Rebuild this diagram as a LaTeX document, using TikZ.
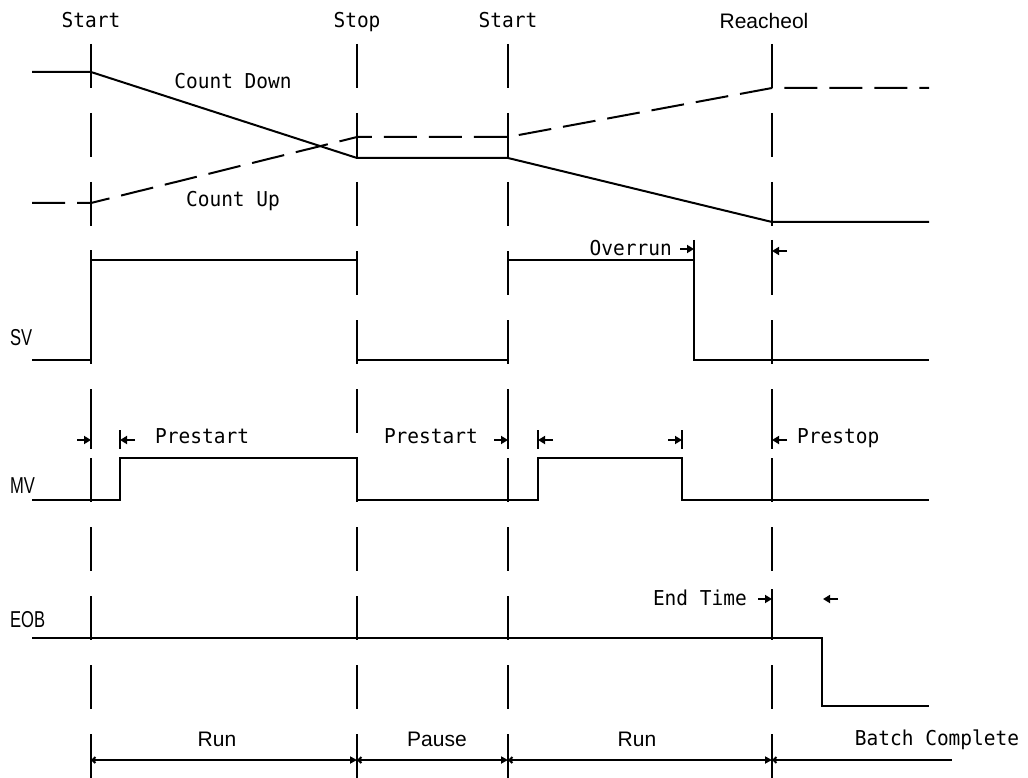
\documentclass[tikz,border=0pt]{standalone}
\usepackage{fontspec}
\usetikzlibrary{arrows.meta}
\newfontfamily\monolbl[FakeStretch=0.95]{DejaVu Sans Mono}
\newfontfamily\proplbl{Liberation Sans}
\newfontfamily\sidelbl[FakeStretch=0.72]{Liberation Sans}
\begin{document}
\begin{tikzpicture}[x=1pt,y=-1pt]
\tikzset{
  sig/.style={line width=2pt},
  guide/.style={line width=2pt, dash pattern=on 44pt off 25pt},
  cnt/.style={line width=2pt, dash pattern=on 33pt off 12pt},
  mono/.style={font=\monolbl\fontsize{20.5}{24}\selectfont, inner sep=0pt, anchor=base},
  prop/.style={font=\proplbl\fontsize{21}{24}\selectfont, inner sep=0pt, anchor=base},
  side/.style={font=\sidelbl\fontsize{23}{26}\selectfont, inner sep=0pt, anchor=base west},
  pin/.style={line width=1.7pt, -{Triangle[length=7pt,width=8pt]}},
  tick/.style={line width=2pt},
  dim/.style={line width=2pt, {Straight Barb[length=3pt,width=6pt]}-{Triangle[length=7pt,width=7pt]}},
  dimopen/.style={line width=2pt, {Straight Barb[length=3pt,width=6pt]}-},
}
\useasboundingbox (0,0) rectangle (1028,778);

% event guides: Start, Stop, Start, Reacheol
\foreach \gx in {91,357,508,772}
  \draw[guide] (\gx,44) -- (\gx,778);

% event labels
\node[mono] (evstart) at (91,28) {Start};
\node[mono] (evstop) at (357,28) {Stop};
\node[mono] (evrestart) at (508,28) {Start};
\node[prop] (evreach) at (764,29) {Reacheol};

% counters
\draw[sig] (32,72) -- (91,72) -- (357,158) -- (508,158) -- (772,222) -- (929,222);
\draw[cnt] (32,203) -- (91,203) -- (357,137) -- (508,137) -- (772,88) -- (929,88);
\node[mono] (cdown) at (233,89) {Count Down};
\node[mono] (cup) at (233,207) {Count Up};

% SV
\node[side] (sv) at (10,345) {SV};
\draw[sig] (32,360) -- (91,360) -- (91,250) (91,260) -- (357,260);
\draw[sig] (357,360) -- (508,360);
\draw[sig] (508,260) -- (694,260);
\draw[sig] (694,240) -- (694,360) -- (929,360);
\node[mono, anchor=base east] (overrun) at (672,255) {Overrun};
\draw[pin] (680,249) -- (694,249);
\draw[tick] (772,240) -- (772,260);
\draw[pin] (787,251) -- (772,251);

% MV
\node[side] (mv) at (10,493) {MV};
\draw[sig] (32,500) -- (120,500) -- (120,458) -- (357,458) -- (357,500)
  -- (538,500) -- (538,458) -- (682,458) -- (682,500) -- (929,500);
\foreach \tx in {91,120,508,538,682,772}
  \draw[tick] (\tx,430) -- (\tx,449);
\draw[pin] (77,440) -- (91,440);
\draw[pin] (135,440) -- (120,440);
\node[mono, anchor=base west] (pre1) at (155,443) {Prestart};
\node[mono, anchor=base east] (pre2) at (478,443) {Prestart};
\draw[pin] (494,440) -- (508,440);
\draw[pin] (553,440) -- (538,440);
\draw[pin] (668,440) -- (682,440);
\draw[pin] (787,440) -- (772,440);
\node[mono, anchor=base west] (prestop) at (797,443) {Prestop};

% EOB
\node[side] (eob) at (10,627) {EOB};
\draw[sig] (32,638) -- (822,638) -- (822,706) -- (929,706);
\node[mono, anchor=base east] (endtime) at (747,605) {End Time};
\draw[tick] (772,589) -- (772,609);
\draw[pin] (758,599) -- (772,599);
\draw[pin] (838,599) -- (823,599);

% phases
\draw[dim] (91,760) -- (357,760);
\draw[dim] (357,760) -- (508,760);
\draw[dim] (508,760) -- (772,760);
\draw[dimopen] (772,760) -- (952,760);
\node[prop] (run1) at (217,746) {Run};
\node[prop] (pause) at (437,746) {Pause};
\node[prop] (run2) at (637,746) {Run};
\node[mono] (batch) at (937,745) {Batch Complete};
\end{tikzpicture}
\end{document}
